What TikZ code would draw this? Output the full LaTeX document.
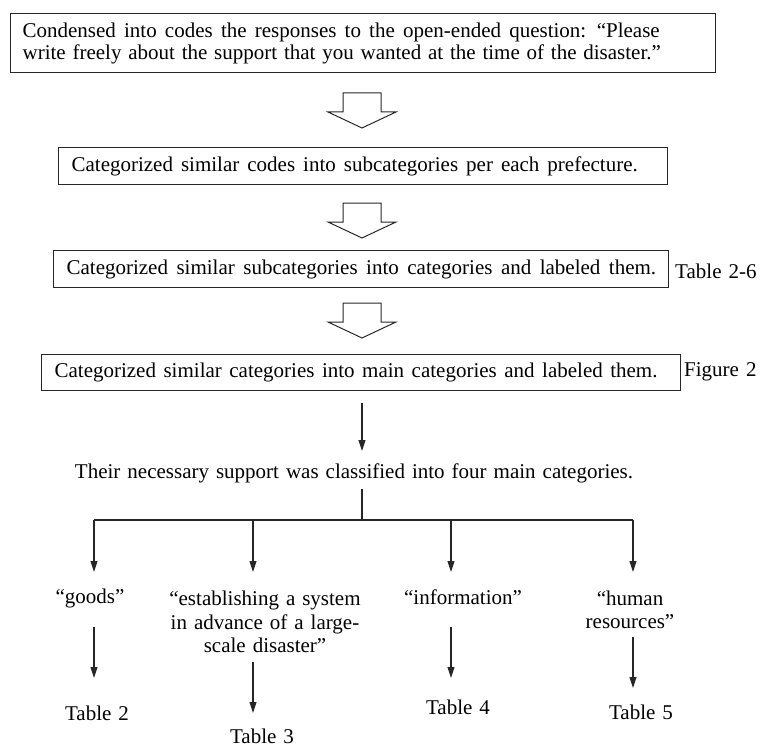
\documentclass[tikz,border=0pt]{standalone}
\usepackage{fontspec}
\setmainfont{Liberation Serif}
\usetikzlibrary{arrows.meta}
\newcommand{\dfont}{\fontsize{21}{22}\selectfont\spaceskip=7pt plus 2pt minus 1pt\relax}
\newcommand{\dfontb}{\fontsize{21}{23.5}\selectfont\spaceskip=7pt plus 2pt minus 1pt\relax}
\newcommand{\wsp}[1]{\spaceskip=#1 plus 1pt minus 1pt\relax}
\begin{document}
\begin{tikzpicture}[x=1pt,y=-1pt,
  every node/.style={font=\dfont},
  box/.style={draw=black!85, line width=1.2pt, anchor=north west, align=left, inner ysep=0pt, minimum height=#1},
  lbl/.style={inner sep=0pt},
  arr/.style={draw=black!85, line width=1.1pt, -{Triangle[width=7pt,length=11pt]}},
  ln/.style={draw=black!85, line width=1.1pt},
  hollow/.pic={\draw[black!85, line width=1pt, line join=miter] (-19,0) -- (19,0) -- (19,19) -- (34,19) -- (0,35) -- (-34,19) -- (-19,19) -- cycle;}
]
\useasboundingbox (0,0) rectangle (760,749);

% boxes
\node[box=59pt, text width=681pt, inner xsep=12pt] (b1) at (10,13)
  {\wsp{8.2pt}\mbox{Condensed into codes the responses to the open-ended question: “Please}\\
   \wsp{6.8pt}\mbox{write freely about the support that you wanted at the time of the disaster.”}};
\node[box=37pt, text width=583pt, inner xsep=13pt] (b2) at (58,147)
  {\wsp{8pt}\mbox{Categorized similar codes into subcategories per each prefecture.}};
\node[box=37pt, text width=589pt, inner xsep=13pt] (b3) at (53,250)
  {\wsp{8.5pt}\mbox{Categorized similar subcategories into categories and labeled them.}};
\node[box=36pt, text width=613pt, inner xsep=13pt] (b4) at (41,354)
  {\wsp{7.5pt}\mbox{Categorized similar categories into main categories and labeled them.}};

\node[lbl, anchor=west] (t26) at (675,271) {Table 2-6};
\node[lbl, anchor=west] (fig2) at (684,372) {Figure 2};

% hollow arrows
\pic at (362,93) {hollow};
\pic at (362,203) {hollow};
\pic at (362,303) {hollow};

% main arrow
\coordinate (m1) at (362,403);
\coordinate (m2) at (362,451);
\draw[arr] (m1) -- (m2);

\node[lbl] (their) at (354,473) {Their necessary support was classified into four main categories.};

% tree
\coordinate (j0) at (362,489);
\coordinate (j) at (362,520);
\coordinate (d1) at (94,520);
\coordinate (d2) at (253,520);
\coordinate (d3) at (451,520);
\coordinate (d4) at (633,520);
\draw[ln] (j0) -- (j);
\draw[ln] (d1) -- (d4);
\coordinate (e1) at (94,572);
\coordinate (e2) at (253,572);
\coordinate (e3) at (451,572);
\coordinate (e4) at (633,572);
\draw[arr] (d1) -- (e1);
\draw[arr] (d2) -- (e2);
\draw[arr] (d3) -- (e3);
\draw[arr] (d4) -- (e4);

% category labels
\node[lbl] (goods) at (90,598) {“goods”};
\node[lbl, align=center, font=\dfontb] (est) at (265,622)
  {“establishing a system\\ in advance of a large-\\ scale disaster”};
\node[lbl] (info) at (463,597) {“information”};
\node[lbl, align=center, font=\dfontb] (hum) at (630,610)
  {“human\\ resources”};

% lower arrows
\coordinate (g1) at (94,627);  \coordinate (g2) at (94,678);
\coordinate (s1) at (253,662); \coordinate (s2) at (253,713);
\coordinate (i1) at (451,627); \coordinate (i2) at (451,678);
\coordinate (h1) at (633,637); \coordinate (h2) at (633,688);
\draw[arr] (g1) -- (g2);
\draw[arr] (s1) -- (s2);
\draw[arr] (i1) -- (i2);
\draw[arr] (h1) -- (h2);

% tables
\node[lbl] (tab2) at (97,713) {Table 2};
\node[lbl] (tab3) at (262,736) {Table 3};
\node[lbl] (tab4) at (458,707) {Table 4};
\node[lbl] (tab5) at (641,712) {Table 5};
\end{tikzpicture}
\end{document}
